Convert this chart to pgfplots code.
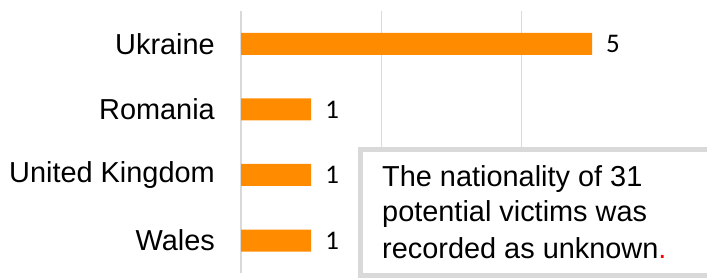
\documentclass[border=0pt]{standalone}
\usepackage{pgfplots}
\pgfplotsset{compat=1.18}
\usepackage{fontspec}
\setmainfont{Liberation Sans}
\newfontfamily\carlito{Carlito}
\definecolor{barorange}{RGB}{255,140,0}
\definecolor{gridgray}{RGB}{217,217,217}
\begin{document}
\begin{tikzpicture}[x=1bp,y=1bp]
\useasboundingbox (0,0) rectangle (707,277);
\clip (0,0) rectangle (707,277);
\begin{axis}[
  at={(241bp,3.7bp)}, anchor=south west,
  scale only axis, width=456.3bp, height=262.3bp,
  xmin=0, xmax=6.5, ymin=-0.5, ymax=3.5, y dir=reverse,
  xbar, bar width=22bp, bar shift=0pt,
  axis line style={draw=none},
  xtick={2,4}, xticklabels={}, xmajorgrids, grid style={gridgray, line width=1.3bp},
  extra x ticks={0}, extra x tick labels={}, extra x tick style={grid style={gridgray,line width=2bp}},
  ytick={0,1,2,3}, yticklabels={Ukraine,Romania,United Kingdom,Wales},
  major tick length=0pt,
  yticklabel style={font=\fontsize{29}{34}\selectfont, anchor=east, inner sep=0pt, xshift=-26bp},
  nodes near coords={\pgfmathprintnumber[assume math mode=true]{\pgfplotspointmeta}},
  nodes near coords style={font=\carlito\fontsize{27}{30}\selectfont, anchor=west, inner sep=0pt, xshift=14bp, text=black},
  clip=false,
]
\addplot[fill=barorange, draw=none] coordinates {(5,0) (1,1) (1,2) (1,3)};
\end{axis}
\fill[white] (360.8,127.2) rectangle (740,1.2);
\draw[gridgray, line width=5bp] (740,127.2) -- (360.8,127.2) -- (360.8,1.2) -- (740,1.2);
\begin{scope}[every node/.style={anchor=base west, inner sep=0pt, font=\fontsize{29}{35.8}\selectfont}]
\node at (382,90.3) {The nationality of 31};
\node at (382,55.3) {potential victims was};
\node at (382,18.7) {recorded as unknown\textcolor{red}{.}};
\end{scope}
\end{tikzpicture}
\end{document}
